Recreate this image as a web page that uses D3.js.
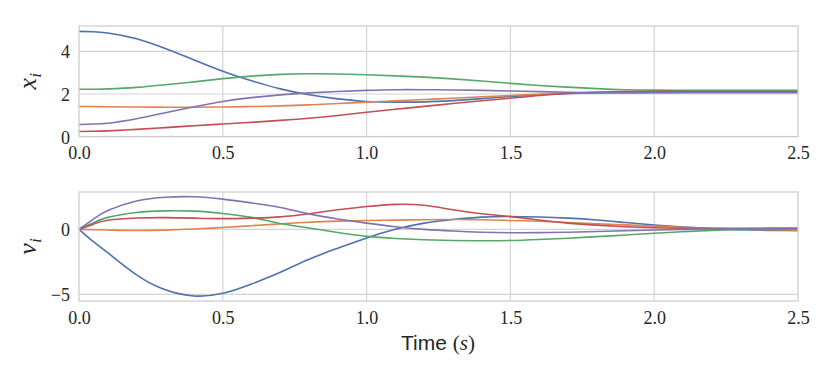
<!DOCTYPE html>
<html>
<head>
<meta charset="utf-8">
<script src="https://cdn.jsdelivr.net/npm/d3@7"></script>
<style>
  body { margin: 0; background: #fff; }
  svg text { fill: #262626; }
  .tick text { font-family: "Liberation Serif", "DejaVu Serif", serif; font-size: 18px; }
</style>
</head>
<body>
<svg id="chart"></svg>
<script>
const width = 830;
const height = 378;

// sample times (s)
const times = [0, 0.05, 0.1, 0.2, 0.3, 0.4, 0.5, 0.6, 0.7, 0.8, 0.9, 1.0, 1.1, 1.2, 1.3,
    1.4, 1.5, 1.6, 1.7, 1.8, 1.9, 2.0, 2.1, 2.2, 2.3, 2.4, 2.5];

// positions x_i
const x1 = [4.94, 4.92, 4.86, 4.59, 4.13, 3.60, 3.07, 2.62, 2.24, 1.96, 1.77, 1.65, 1.62, 1.63, 1.69,
    1.78, 1.88, 1.96, 2.02, 2.05, 2.06, 2.07, 2.08, 2.08, 2.08, 2.08, 2.08];
const x2 = [1.41, 1.41, 1.40, 1.39, 1.38, 1.38, 1.39, 1.41, 1.44, 1.49, 1.55, 1.62, 1.68, 1.74, 1.80,
    1.87, 1.93, 1.99, 2.04, 2.08, 2.10, 2.11, 2.11, 2.10, 2.10, 2.10, 2.10];
const x3 = [2.22, 2.22, 2.24, 2.31, 2.43, 2.57, 2.72, 2.84, 2.92, 2.95, 2.94, 2.90, 2.85, 2.79, 2.71,
    2.61, 2.50, 2.40, 2.32, 2.25, 2.20, 2.18, 2.17, 2.17, 2.17, 2.17, 2.17];
const x4 = [0.24, 0.25, 0.27, 0.34, 0.42, 0.51, 0.59, 0.67, 0.76, 0.86, 0.99, 1.14, 1.28, 1.42, 1.55,
    1.68, 1.80, 1.93, 2.02, 2.08, 2.11, 2.12, 2.12, 2.12, 2.12, 2.12, 2.12];
const x5 = [0.57, 0.59, 0.63, 0.84, 1.12, 1.40, 1.65, 1.83, 1.96, 2.05, 2.12, 2.17, 2.20, 2.20, 2.19,
    2.17, 2.14, 2.11, 2.08, 2.07, 2.06, 2.06, 2.06, 2.06, 2.06, 2.06, 2.06];

// velocities v_i
const v1 = [0, -0.95, -1.8, -3.5, -4.65, -5.12, -4.92, -4.2, -3.3, -2.3, -1.45, -0.66, 0.0, 0.48, 0.76,
    0.94, 0.99, 0.95, 0.86, 0.72, 0.52, 0.33, 0.17, 0.05, -0.03, -0.08, -0.1];
const v2 = [0, -0.03, -0.05, -0.09, -0.06, 0.02, 0.14, 0.28, 0.42, 0.55, 0.63, 0.68, 0.71, 0.74, 0.76,
    0.74, 0.68, 0.62, 0.53, 0.43, 0.34, 0.25, 0.16, 0.08, 0.02, -0.03, -0.06];
const v3 = [0, 0.5, 0.92, 1.3, 1.42, 1.4, 1.22, 0.92, 0.45, 0.1, -0.25, -0.54, -0.7, -0.8, -0.86,
    -0.88, -0.86, -0.78, -0.68, -0.56, -0.44, -0.3, -0.18, -0.08, -0.02, 0.01, 0.02];
const v4 = [0, 0.4, 0.7, 0.87, 0.9, 0.86, 0.82, 0.86, 0.96, 1.2, 1.5, 1.75, 1.92, 1.85, 1.5,
    1.2, 0.98, 0.72, 0.48, 0.32, 0.2, 0.12, 0.08, 0.07, 0.08, 0.09, 0.1];
const v5 = [0, 0.78, 1.45, 2.18, 2.47, 2.5, 2.32, 2.03, 1.68, 1.19, 0.8, 0.48, 0.2, 0.0, -0.13,
    -0.22, -0.26, -0.25, -0.22, -0.17, -0.11, -0.05, 0.0, 0.03, 0.05, 0.05, 0.05];

const colors = ["#4c72b0", "#dd8452", "#55a868", "#c44e52", "#8172b3"];
const xTicks = [0, 0.5, 1.0, 1.5, 2.0, 2.5];

const svg = d3.select("#chart")
    .attr("width", width)
    .attr("height", height);

const x = d3.scaleLinear().domain([0, 2.5]).range([79, 798]);

function drawPanel(top, bottom, domain, yTicks, series, label) {
    const y = d3.scaleLinear().domain(domain).range([bottom, top]);
    const g = svg.append("g");

    // grid
    g.selectAll(".vgrid").data(xTicks.slice(1, -1)).join("line")
        .attr("x1", d => x(d)).attr("x2", d => x(d))
        .attr("y1", top).attr("y2", bottom)
        .attr("stroke", "#d4d4d4").attr("stroke-width", 1.2);
    g.selectAll(".hgrid").data(yTicks).join("line")
        .attr("x1", x(0)).attr("x2", x(2.5))
        .attr("y1", d => y(d)).attr("y2", d => y(d))
        .attr("stroke", "#d4d4d4").attr("stroke-width", 1.2);

    const line = d3.line()
        .x((d, i) => x(times[i]))
        .y(d => y(d))
        .curve(d3.curveNatural);

    series.forEach((s, i) => {
        g.append("path")
            .datum(s)
            .attr("d", line)
            .attr("fill", "none")
            .attr("stroke", colors[i])
            .attr("stroke-width", 1.6);
    });

    // frame
    g.append("rect")
        .attr("x", x(0)).attr("y", top)
        .attr("width", x(2.5) - x(0)).attr("height", bottom - top)
        .attr("fill", "none").attr("stroke", "#cccccc").attr("stroke-width", 1.25);

    const xAxis = g.append("g")
        .attr("transform", `translate(0,${bottom})`)
        .call(d3.axisBottom(x).tickValues(xTicks).tickFormat(d3.format(".1f")).tickSize(0).tickPadding(10));
    xAxis.select(".domain").remove();

    const yAxis = g.append("g")
        .attr("transform", `translate(${x(0)},0)`)
        .call(d3.axisLeft(y).tickValues(yTicks).tickFormat(d => d < 0 ? "\u2212" + Math.abs(d) : d).tickSize(0).tickPadding(9));
    yAxis.select(".domain").remove();
    yAxis.selectAll(".tick text").attr("dy", "0.36em");

    const ly = (top + bottom) / 2;
    const t = svg.append("text")
        .attr("transform", `translate(36,${ly}) rotate(-90)`)
        .attr("text-anchor", "middle")
        .style("font-family", "'Liberation Serif', 'DejaVu Serif', serif")
        .style("font-style", "italic")
        .style("font-size", "26px");
    t.append("tspan").text(label);
    t.append("tspan").attr("dy", 5).style("font-size", "17px").text("i");
}

drawPanel(26, 136.5, [0.005, 5.19], [0, 2, 4], [x1, x2, x3, x4, x5], "x");
drawPanel(192, 301, [-5.51, 2.87], [-5, 0], [v1, v2, v3, v4, v5], "v");

// x-axis title
const title = svg.append("text")
    .attr("x", 438).attr("y", 350)
    .attr("text-anchor", "middle")
    .style("font-size", "21px");
title.append("tspan")
    .style("font-family", "'Liberation Sans', 'DejaVu Sans', sans-serif")
    .text("Time ");
title.append("tspan")
    .style("font-family", "'Liberation Serif', 'DejaVu Serif', serif")
    .text("(");
title.append("tspan")
    .style("font-family", "'Liberation Serif', 'DejaVu Serif', serif")
    .style("font-style", "italic")
    .text("s");
title.append("tspan")
    .style("font-family", "'Liberation Serif', 'DejaVu Serif', serif")
    .text(")");
</script>
</body>
</html>
